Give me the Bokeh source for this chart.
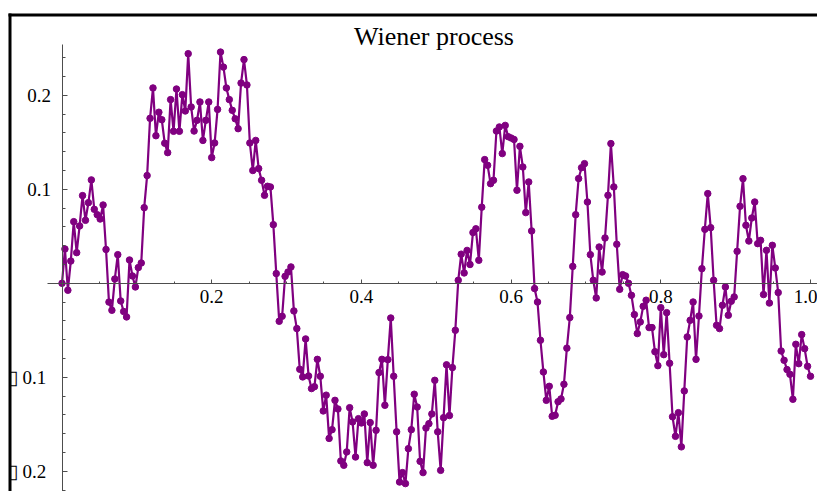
import numpy as np
from bokeh.plotting import figure
from bokeh.models import Range1d, FixedTicker, CustomJSTickFormatter, Label, BoxAnnotation
from bokeh.embed import file_html
from bokeh.resources import INLINE

title_text = "Wiener process"

w_values = [
    0.0, 0.0365, -0.0074, 0.0237, 0.0656, 0.0326, 0.061, 0.0933, 0.067, 0.0858,
    0.110, 0.0787, 0.073, 0.0684, 0.0833, 0.036, -0.020, -0.0287, 0.0046, 0.0305,
    -0.0188, -0.030, -0.0358, 0.0248, 0.0078, -0.0039, 0.0167, 0.0216, 0.0805, 0.1146,
    0.1755, 0.2078, 0.157, 0.182, 0.174, 0.149, 0.139, 0.1954, 0.1617, 0.2067,
    0.1617, 0.2007, 0.1833, 0.2443, 0.1876, 0.162, 0.1734, 0.1929, 0.152, 0.1734,
    0.1929, 0.1337, 0.1493, 0.185, 0.246, 0.230, 0.2078, 0.1954, 0.184, 0.175,
    0.1645, 0.213, 0.238, 0.211, 0.1493, 0.120, 0.152, 0.122, 0.1096, 0.0936,
    0.1032, 0.1025, 0.0624, 0.0103, -0.0404, -0.0351, 0.0074, 0.012, 0.0174, -0.0294,
    -0.0482, -0.0915, -0.0996, -0.0592, -0.0986, -0.112, -0.110, -0.0809, -0.0989, -0.1358,
    -0.119, -0.165, -0.1557, -0.1245, -0.1337, -0.189, -0.1936, -0.1794, -0.1323, -0.1475,
    -0.1848, -0.144, -0.1486, -0.139, -0.1908, -0.1482, -0.1936, -0.1564, -0.095, -0.0809,
    -0.1298, -0.0812, -0.0369, -0.0989, -0.158, -0.2114, -0.2014, -0.2131, -0.1759, -0.1557,
    -0.118, -0.1316, -0.1894, -0.2014, -0.154, -0.1493, -0.139, -0.1032, -0.158, -0.199,
    -0.1429, -0.0867, -0.1407, -0.0897, -0.050, 0.0032, 0.031, 0.011, 0.035, 0.020,
    0.054, 0.058, 0.0245, 0.081, 0.1316, 0.1255, 0.106, 0.1096, 0.162, 0.1663,
    0.138, 0.168, 0.156, 0.1546, 0.153, 0.099, 0.1457, 0.1237, 0.0752, 0.1078,
    0.0557, -0.0056, -0.0199, -0.0606, -0.0943, -0.1245, -0.1096, -0.1415, -0.1404, -0.126,
    -0.123, -0.1074, -0.069, -0.0365, 0.018, 0.073, 0.1114, 0.123, 0.1273, 0.0865,
    0.0305, 0.0032, -0.0156, 0.0386, 0.012, 0.0482, 0.0936, 0.1486, 0.1025, 0.0415,
    -0.0064, 0.0092, 0.0078, 0.0, -0.0128, -0.0333, -0.0535, -0.0411, -0.0245, -0.018,
    -0.0471, -0.0471, -0.0727, -0.0876, -0.0259, -0.0759, -0.0312, -0.0851, -0.142, -0.1628,
    -0.1376, -0.174, -0.1145, -0.0571, -0.0394, -0.0199, -0.0809, -0.0348, 0.0156, 0.0574,
    0.0954, 0.0592, 0.0032, -0.0447, -0.0482, -0.0234, -0.0039, -0.034, -0.0191, -0.0145,
    0.034, 0.0819, 0.1113, 0.0617, 0.045, 0.0695, 0.0865, 0.0422, 0.0457, -0.012,
    0.0351, -0.021, 0.0404, 0.0163, -0.0099, -0.072, -0.0819, -0.0918, -0.0968, -0.1234,
    -0.0649, -0.0855, -0.0546, -0.0695, -0.0883, -0.0989,
]

x_major_ticks = [0.2, 0.4, 0.6, 0.8, 1.0]
x_minor_ticks = [0.05, 0.1, 0.15, 0.25, 0.3, 0.35, 0.45, 0.5, 0.55,
                 0.65, 0.7, 0.75, 0.85, 0.9, 0.95]
y_major_ticks = [-0.2, -0.1, 0.1, 0.2]
y_minor_ticks = [-0.22, -0.18, -0.16, -0.14, -0.12, -0.08, -0.06, -0.04, -0.02,
                 0.02, 0.04, 0.06, 0.08, 0.12, 0.14, 0.16, 0.18, 0.22, 0.24]

# time grid of the process (evenly spaced samples on [0, 1])
t_values = np.linspace(0.0, 1.0, len(w_values))

# ---- layout (pixel anchors of the reference) ----
W, H = 817, 491
PX0, PX_PER = 61.5, 748.5      # pixel of x=0, pixels per unit x
PY0, PY_PER = 282.8, 940.0     # pixel of y=0, pixels per unit y


def dx(px):
    return (px - PX0) / PX_PER


def dy(py):
    return (PY0 - py) / PY_PER


PURPLE = "#800080"
AXIS_GRAY = "#4d4d4d"
SERIF = "'Liberation Serif', 'Times New Roman', serif"

p = figure(width=W, height=H, output_backend="svg", toolbar_location=None,
           x_range=Range1d(dx(0), dx(W)), y_range=Range1d(dy(H), dy(0)),
           min_border=0, min_border_left=0, min_border_right=0,
           min_border_top=0, min_border_bottom=0)
p.outline_line_color = None
p.background_fill_color = "white"
p.border_fill_color = "white"
p.xgrid.visible = False
p.ygrid.visible = False

# outer frame (top and left edges visible)
p.add_layout(BoxAnnotation(left=dx(8), top=dy(13), bottom=dy(16),
                           fill_color="black", fill_alpha=1.0, line_color=None))
p.add_layout(BoxAnnotation(left=dx(8), right=dx(11), top=dy(13),
                           fill_color="black", fill_alpha=1.0, line_color=None))

# axes crossing at the origin
for ax in (p.xaxis[0], p.yaxis[0]):
    ax.fixed_location = 0
    ax.axis_line_color = AXIS_GRAY
    ax.axis_line_width = 1
    ax.major_tick_line_color = AXIS_GRAY
    ax.minor_tick_line_color = AXIS_GRAY
    ax.major_tick_out = 0
    ax.minor_tick_out = 0
    ax.major_label_text_font = SERIF
    ax.major_label_text_font_size = "19px"
    ax.major_label_text_color = "black"

p.xaxis.ticker = FixedTicker(ticks=x_major_ticks, minor_ticks=x_minor_ticks)
p.xaxis.bounds = (-0.02, 1.2)
p.xaxis.major_tick_in = 4
p.xaxis.minor_tick_in = 2
p.xaxis.major_label_standoff = 7
p.xaxis.formatter = CustomJSTickFormatter(code="return tick.toFixed(1);")

p.yaxis.ticker = FixedTicker(ticks=y_major_ticks, minor_ticks=y_minor_ticks)
p.yaxis.bounds = (-0.5, 0.254)
p.yaxis.major_tick_in = 5
p.yaxis.minor_tick_in = 3
p.yaxis.major_label_standoff = 11
p.yaxis.formatter = CustomJSTickFormatter(
    code="return tick < 0 ? '\\u25af  ' + (-tick).toFixed(1) : tick.toFixed(1);")

# the series
p.line(t_values, w_values, line_color=PURPLE, line_width=2.2)
p.scatter(t_values, w_values, size=6.5, fill_color=PURPLE, line_color=PURPLE)

# title inside the frame
p.add_layout(Label(x=dx(433.5), y=dy(35.7), text=title_text,
                   text_align="center", text_baseline="alphabetic",
                   text_font=SERIF, text_font_size="26px", text_color="black"))

open("out.html", "w").write(file_html(p, INLINE))
